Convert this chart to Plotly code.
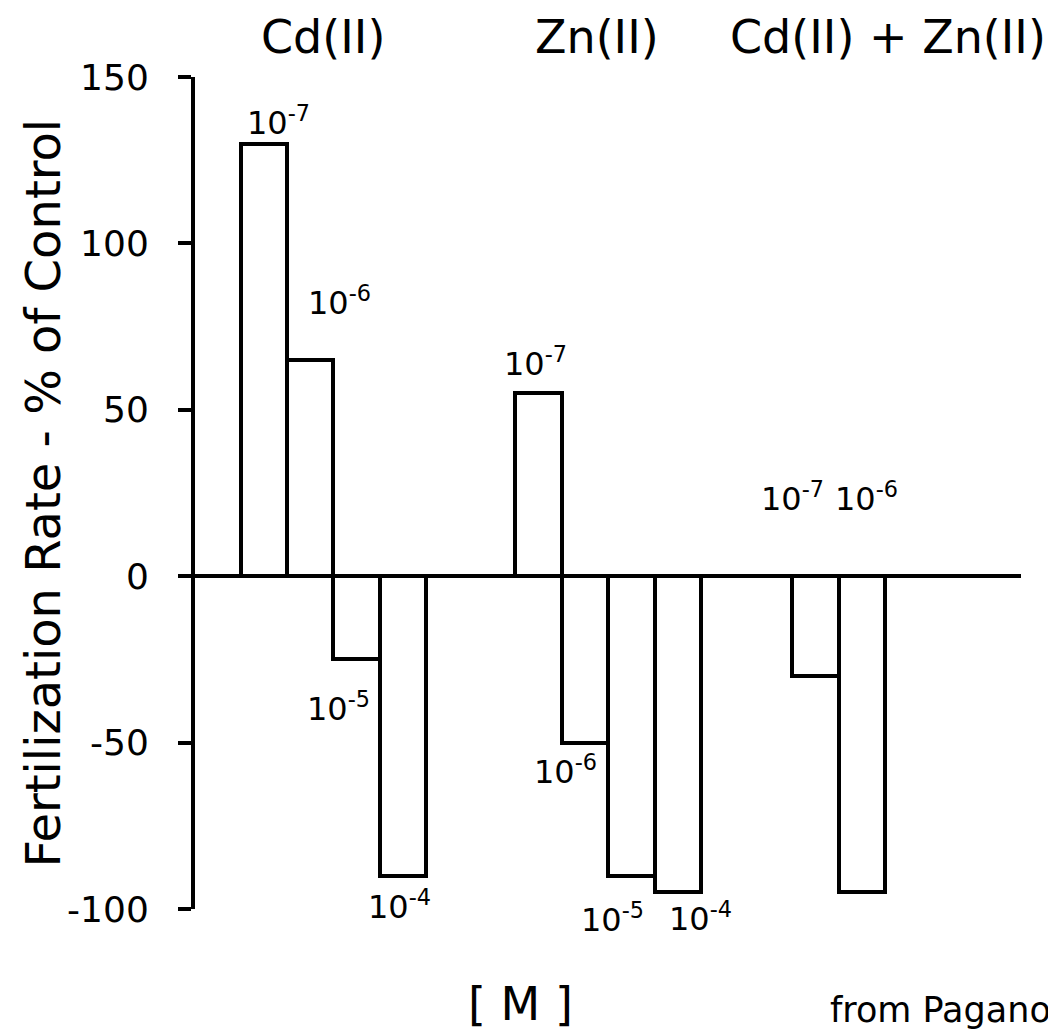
import plotly.graph_objects as go

# ---- data ----
groups = ["Cd(II)", "Zn(II)", "Cd(II) + Zn(II)"]
cd_conc = ["10<sup>-7</sup>", "10<sup>-6</sup>", "10<sup>-5</sup>", "10<sup>-4</sup>"]
cd_values = [130, 65, -25, -90]
zn_conc = ["10<sup>-7</sup>", "10<sup>-6</sup>", "10<sup>-5</sup>", "10<sup>-4</sup>"]
zn_values = [55, -50, -90, -95]
cdzn_conc = ["10<sup>-7</sup>", "10<sup>-6</sup>"]
cdzn_values = [-30, -95]
y_ticks = [-100, -50, 0, 50, 100, 150]

# ---- layout helpers (screen pixels, page has an 8px body margin) ----
OFF = 8
W, H = 1056 - OFF, 1034 - OFF
ml, mr, mt, mb = 186.5, 35, 69, 125
plot_w = W - ml - mr
plot_h = H - mt - mb
bar_px = 46.5
x_max = plot_w / bar_px
group_start = [0.98, 6.89, 12.85]


def px_x(sx):
    return (sx - OFF - ml) / plot_w


def px_y(sy):
    return 1 - (sy - OFF - mt) / plot_h


# label pixel offsets relative to bar end (dx, dy)
cd_lab = [(15, 23), (29, 59), (-18, -48), (-4, -29)]
zn_lab = [(-3, 31), (-19, -27), (-19, -42), (23, -25)]
cdzn_lab = [(-23, 79), (5, 79)]

FONT = "DejaVu Sans"
series = [(cd_conc, cd_values, cd_lab, False),
          (zn_conc, zn_values, zn_lab, False),
          (cdzn_conc, cdzn_values, cdzn_lab, True)]

fig = go.Figure()
annotations = []
for gi, (conc, vals, labs, at_zero) in enumerate(series):
    xs = [group_start[gi] + 0.5 + i for i in range(len(vals))]
    fig.add_trace(go.Bar(
        x=xs, y=vals, width=1,
        marker=dict(color="white", line=dict(color="black", width=4)),
        showlegend=False, hoverinfo="y",
    ))
    for x, v, t, (dx, dy) in zip(xs, vals, conc, labs):
        annotations.append(dict(
            x=x, y=0 if at_zero else v, xref="x", yref="y", text=t,
            showarrow=False, xanchor="center", yanchor="middle",
            xshift=dx, yshift=dy, font=dict(family=FONT, size=32, color="black"),
        ))

# group titles
title_px = [323, 597, 888]
for g, px in zip(groups, title_px):
    annotations.append(dict(
        x=px_x(px), y=px_y(37), xref="paper", yref="paper", text=g,
        showarrow=False, xanchor="center", yanchor="middle",
        font=dict(family=FONT, size=46, color="black"),
    ))

# y title
annotations.append(dict(
    x=px_x(42), y=px_y(493), xref="paper", yref="paper",
    text="Fertilization Rate - % of Control",
    textangle=-90, showarrow=False, xanchor="center", yanchor="middle",
    font=dict(family=FONT, size=48, color="black"),
))
# x title
annotations.append(dict(
    x=px_x(520), y=px_y(1004), xref="paper", yref="paper", text="[ M ]",
    showarrow=False, xanchor="center", yanchor="middle",
    font=dict(family=FONT, size=46, color="black"),
))
# source
annotations.append(dict(
    x=px_x(1053), y=px_y(1010), xref="paper", yref="paper", text="from Pagano",
    showarrow=False, xanchor="right", yanchor="middle",
    font=dict(family=FONT, size=35, color="black"),
))

fig.update_layout(
    width=W, height=H,
    margin=dict(l=ml, r=mr, t=mt, b=mb, pad=0),
    paper_bgcolor="white", plot_bgcolor="white",
    annotations=annotations,
    bargap=0,
    xaxis=dict(visible=False, range=[0, x_max], fixedrange=True),
    yaxis=dict(
        range=[-100, 150], tickvals=y_ticks, ticktext=[str(v) for v in y_ticks],
        showline=True, linecolor="black", linewidth=4,
        ticks="outside", ticklen=13, tickwidth=4, tickcolor="black",
        showgrid=False, zeroline=True, zerolinecolor="black", zerolinewidth=4,
        tickfont=dict(family=FONT, size=36, color="black"),
        ticklabelstandoff=22,
    ),
)

fig.write_html("out.html")
